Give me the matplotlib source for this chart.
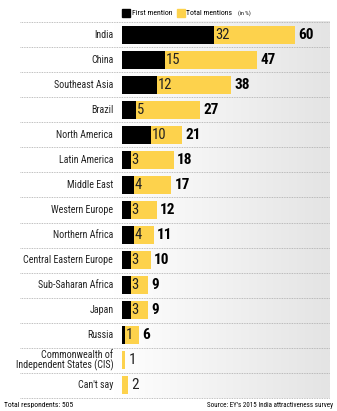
import matplotlib.pyplot as plt
import numpy as np
from matplotlib import font_manager
from matplotlib.colors import LinearSegmentedColormap

# Data (in %)
regions = ['India', 'China', 'Southeast Asia', 'Brazil', 'North America',
           'Latin America', 'Middle East', 'Western Europe', 'Northern Africa',
           'Central Eastern Europe', 'Sub-Saharan Africa', 'Japan', 'Russia',
           'Commonwealth of\nIndependent States (CIS)', "Can't say"]
first_mention = [32, 15, 12, 5, 10, 3, 4, 3, 4, 3, 3, 3, 1, 0, 0]
total_mentions = [60, 47, 38, 27, 21, 18, 17, 12, 11, 10, 9, 9, 6, 1, 2]

# pick a condensed sans if there is one
names = set(f.name for f in font_manager.fontManager.ttflist)
fam = 'DejaVu Sans'
for c in ['Roboto Condensed', 'Fira Sans Condensed', 'PT Sans Narrow',
          'Archivo Narrow', 'Liberation Sans Narrow', 'Open Sans Condensed']:
    if c in names:
        fam = c
        break
plt.rcParams['font.family'] = [fam, 'DejaVu Sans']

YELLOW = '#fdd24c'
W, H = 337, 411
fig = plt.figure(figsize=(W / 100, H / 100), dpi=100)
renderer = fig.canvas.get_renderer()


def text_width(s, size, **kw):
    t = fig.text(0, 0, s, fontsize=size, **kw)
    w = t.get_window_extent(renderer).width
    t.remove()
    return w


# label size so that the longest one-line label is about 90 px wide
label_size = 10 * 90 / text_width('Central Eastern Europe', 10)

# background gradient behind the rows
bg = fig.add_axes([0, 0, 1, 1], zorder=0)
grad = np.linspace(0, 1, 256)
grad = np.clip((grad - 0.3) / 0.7, 0, 1)
bg.imshow(grad[np.newaxis, :], extent=[20, 330, H - 398, H - 22], aspect='auto',
          cmap=LinearSegmentedColormap.from_list('g', ['#ffffff', '#e4e4e4']))
bg.set_xlim(0, W)
bg.set_ylim(0, H)
bg.axis('off')

# main axes
x0, x1 = 122, 330
ax = fig.add_axes([x0 / W, (H - 398) / H, (x1 - x0) / W, (398 - 22) / H], zorder=1)
ax.patch.set_alpha(0)
n = len(regions)
y = np.arange(n)
ax.set_xlim(0, (x1 - x0) / 2.88)
ax.set_ylim(n - 0.5, -0.5)

ax.barh(y, total_mentions, height=0.72, color=YELLOW, zorder=2)
ax.barh(y, first_mention, height=0.72, color='black', zorder=3)

for i in range(n):
    if first_mention[i] > 0:
        ax.text(first_mention[i] + 0.3, i, str(first_mention[i]), va='center', ha='left',
                fontsize=10.5, color='#222222', zorder=4)
        ax.text(total_mentions[i] + 1.2, i, str(total_mentions[i]), va='center', ha='left',
                fontsize=11, fontweight='bold', color='black', zorder=4)
    else:
        ax.text(total_mentions[i] + 1.2, i, str(total_mentions[i]), va='center', ha='left',
                fontsize=11, color='#222222', zorder=4)
    # region label
    ax.text(-3.0, i, regions[i], va='center', ha='right', fontsize=label_size,
            color='#222222', linespacing=0.95, clip_on=False)

# dotted separators
for b in range(n + 1):
    yy = H - (22 + b * (376 / n))
    bg.plot([20, 330], [yy, yy], color='#aaaaaa', lw=0.6, ls=(0, (1, 1)))

ax.axis('off')

# legend, laid out left to right
leg_size = 10 * 40 / text_width('First mention', 10)
lx = 122
for lab, col in [('First mention', 'black'), ('Total mentions', YELLOW)]:
    bg.add_patch(plt.Rectangle((lx, H - 17), 8, 8, color=col))
    bg.text(lx + 10, H - 13, lab, fontsize=leg_size, va='center', ha='left')
    lx += 10 + text_width(lab, leg_size) + 4
bg.text(lx + 1, H - 13, '(in %)', fontsize=leg_size * 0.75, va='center', ha='left')

# footer
bg.text(4, H - 405, 'Total respondents: 505', fontsize=5.5, va='center', ha='left')
bg.text(333, H - 405, "Source: EY's 2015 India attractiveness survey", fontsize=5,
        va='center', ha='right')

fig.savefig('out.png', dpi=100)
